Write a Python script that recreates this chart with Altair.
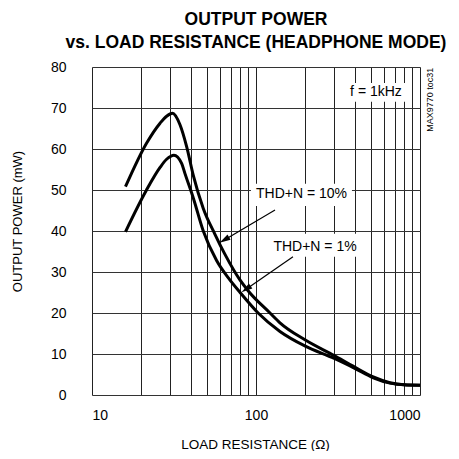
import altair as alt
import pandas as pd

# THD+N = 10% curve (load resistance in ohms, output power in mW)
r10 = [16, 21.5, 26, 28.5, 31, 34.4, 37.8, 41.5, 47.7, 56.2, 64.7, 80, 90,
       121.7, 140, 200, 300, 400, 519, 656, 800, 1000]
p10 = [50.8, 61.4, 66.3, 68.0, 68.7, 65.9, 60.5, 53.5, 45.5, 39.2, 34.3, 28.0, 25.3,
       20.0, 17.6, 13.4, 9.6, 6.8, 4.4, 3.0, 2.5, 2.4]

# THD+N = 1% curve
r1 = [16, 21.5, 26, 28.5, 31.6, 35.2, 36.9, 41.5, 47.7, 57.5, 68, 80, 103, 140, 200,
      300, 400, 519, 656, 800, 1000]
p1 = [39.8, 50.0, 55.5, 57.5, 58.5, 56.5, 54.0, 48.0, 40.0, 32.8, 28.5, 25.0, 20.0, 15.5, 11.9,
      8.9, 6.5, 4.2, 2.9, 2.5, 2.4]

x_grid = [10, 20, 30, 40, 50, 60, 70, 80, 90, 100, 200, 300, 400, 500, 600, 700, 800, 900, 1000]
y_ticks = [0, 10, 20, 30, 40, 50, 60, 70, 80]

# annotation texts (data coordinates)
lab_text = ["f = 1kHz", "THD+N = 10%", "THD+N = 1%"]
lab_r = [539, 189.4, 229]
lab_p = [74.0, 49.1, 36.2]

# white boxes behind the annotation texts
box_r1 = [354, 93.2, 121.7]
box_r2 = [822, 384.6, 430]
box_p1 = [71.5, 46.1, 33.7]
box_p2 = [76.1, 51.5, 39.3]

# arrows: start, arrowhead centre, angle
arr_r0 = [130.6, 168.1]
arr_p0 = [45.1, 33.7]
arr_r1 = [64.1, 87.0]
arr_p1 = [37.8, 25.8]
arr_ang = [239.4, 235.5]

FONT = "Liberation Sans, Arial, sans-serif"

curves = pd.DataFrame({
    "R": r10 + r1,
    "P": p10 + p1,
    "series": ["10%"] * len(r10) + ["1%"] * len(r1),
})
labels = pd.DataFrame({"R": lab_r, "P": lab_p, "t": lab_text})
boxes = pd.DataFrame({"R": box_r1, "R2": box_r2, "P": box_p1, "P2": box_p2})
arrows = pd.DataFrame({"R": arr_r0, "P": arr_p0, "R2": arr_r1, "P2": arr_p1, "ang": arr_ang})
code = pd.DataFrame({"R": [1151], "P": [72.0], "t": ["MAX9770 toc31"]})

xscale = alt.Scale(type="log", domain=[10, 1000], nice=False)
yscale = alt.Scale(domain=[0, 80], nice=False, zero=True)

xaxis = alt.Axis(
    values=x_grid, format="d",
    labelExpr="(datum.value == 10 || datum.value == 100 || datum.value == 1000) ? datum.label : ''",
    labelOverlap=False, labelFont=FONT, labelFontSize=14, labelColor="black",
    labelPadding=13, ticks=False, tickSize=0, domain=False,
    grid=True, gridColor="#222222", gridWidth=1, gridOpacity=1,
    title="LOAD RESISTANCE (Ω)", titleFont=FONT, titleFontSize=13.5,
    titleFontWeight="normal", titleColor="black",
    titleX=163, titleY=49, titleAlign="center", titleBaseline="middle",
)
yaxis = alt.Axis(
    values=y_ticks, labelFont=FONT, labelFontSize=14, labelColor="black",
    labelPadding=26, ticks=False, tickSize=0, domain=False,
    grid=True, gridColor="#333333", gridWidth=1, gridOpacity=1,
    title="OUTPUT POWER (mW)", titleFont=FONT, titleFontSize=13,
    titleFontWeight="normal", titleColor="black",
    titleX=-75, titleY=154, titleAngle=-90, titleAlign="center", titleBaseline="middle",
)

X = alt.X("R:Q", scale=xscale, axis=xaxis)
Y = alt.Y("P:Q", scale=yscale, axis=yaxis)

lines = alt.Chart(curves).mark_line(
    color="black", strokeWidth=3, interpolate="monotone"
).encode(x=X, y=Y, detail="series:N", order=alt.Order("R:Q"))

rects = alt.Chart(boxes).mark_rect(color="white", opacity=1).encode(
    x=X, x2="R2:Q", y=Y, y2="P2:Q"
)

texts = alt.Chart(labels).mark_text(
    font=FONT, fontSize=14, color="black", align="center", baseline="middle"
).encode(x=X, y=Y, text="t:N")

rules = alt.Chart(arrows).mark_rule(color="black", strokeWidth=1.2).encode(
    x=X, y=Y, x2="R2:Q", y2="P2:Q"
)

heads = alt.Chart(arrows).mark_point(
    shape="M0,-1L0.55,1L-0.55,1Z", filled=True, color="black", opacity=1, size=121
).encode(x=alt.X("R2:Q", scale=xscale, axis=xaxis), y=alt.Y("P2:Q", scale=yscale, axis=yaxis),
         angle=alt.Angle("ang:Q", scale=None))

codetext = alt.Chart(code).mark_text(
    font=FONT, fontSize=9, color="black", angle=270, align="center", baseline="middle"
).encode(x=X, y=Y, text="t:N")

chart = alt.layer(rects, lines, rules, heads, texts, codetext).properties(
    width=328, height=328,
    autosize=alt.AutoSizeParams(type="none"),
    padding={"left": 84, "top": 59, "right": 31, "bottom": 56},
    title=alt.TitleParams(
        text=["OUTPUT POWER", "vs. LOAD RESISTANCE (HEADPHONE MODE)"],
        font=FONT, fontSize=17.5, fontWeight="bold", lineHeight=22.5,
        anchor="middle", offset=9, color="black",
    ),
).configure_view(stroke="black", strokeWidth=3).configure(background="white")

chart.save("out.html", embed_options={"renderer": "svg", "actions": False})
